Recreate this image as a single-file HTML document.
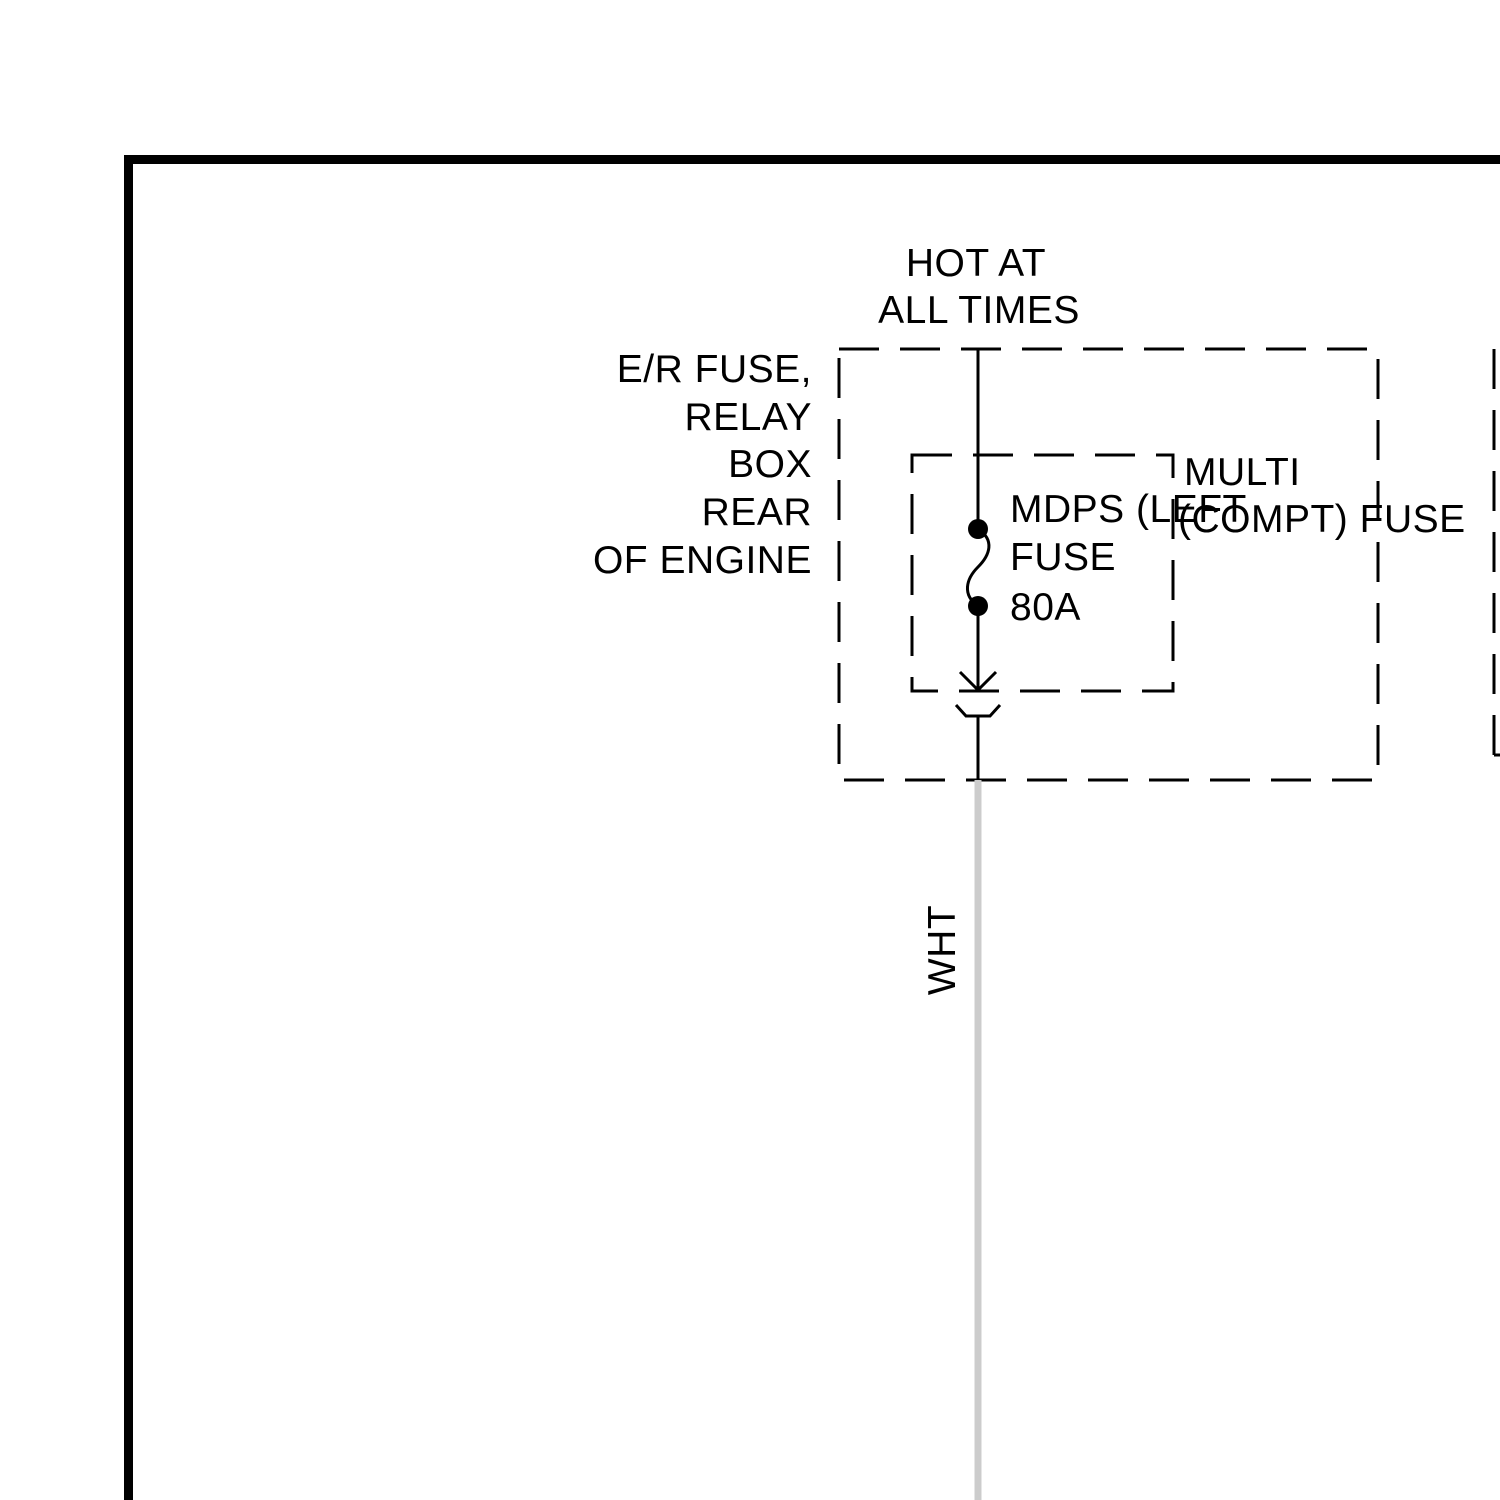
<!DOCTYPE html>
<html><head><style>html,body{margin:0;padding:0;background:#fff}svg{display:block}</style></head>
<body>
<svg width="1500" height="1500" viewBox="0 0 1500 1500" xmlns="http://www.w3.org/2000/svg" font-family="Liberation Sans, Arial, sans-serif" font-size="39" letter-spacing="0.5" fill="#000">
<path d="M128.5 1500 V159.5 H1500" fill="none" stroke="#000" stroke-width="9"/>
<g fill="none" stroke="#000" stroke-width="3" stroke-dasharray="40,21">
<rect x="839" y="349" width="539" height="431"/>
<rect x="912" y="455" width="261" height="236"/>
<path d="M1494 349 V755"/>
</g>
<line x1="1494" y1="755" x2="1500" y2="755" stroke="#000" stroke-width="3"/>
<line x1="978" y1="780" x2="978" y2="1500" stroke="#ccc" stroke-width="7"/>
<g fill="none" stroke="#000" stroke-width="3">
<line x1="978" y1="349" x2="978" y2="529"/>
<path d="M978 529 C995 540,990 555,978 567 C966 579,962 595,978 606"/>
<line x1="978" y1="606" x2="978" y2="690"/>
<path d="M960 672 L978 690 L996 672"/>
<path d="M956 705 L966 716 L990 716 L1000 705"/>
<line x1="978" y1="716" x2="978" y2="780"/>
</g>
<circle cx="978" cy="529" r="10"/>
<circle cx="978" cy="606" r="10"/>
<g text-anchor="middle">
<text x="976" y="276">HOT AT</text>
<text x="979" y="323">ALL TIMES</text>
</g>
<g text-anchor="end">
<text x="812" y="382">E/R FUSE,</text>
<text x="812" y="430">RELAY</text>
<text x="812" y="477">BOX</text>
<text x="812" y="525">REAR</text>
<text x="812" y="573">OF ENGINE</text>
</g>
<text x="1010" y="522">MDPS (LEFT</text>
<text x="1010" y="570">FUSE</text>
<text x="1010" y="620">80A</text>
<text x="1184" y="485">MULTI</text>
<text x="1178" y="532">(COMPT) FUSE</text>
<text transform="translate(955,950) rotate(-90)" text-anchor="middle">WHT</text>
</svg>
</body></html>
